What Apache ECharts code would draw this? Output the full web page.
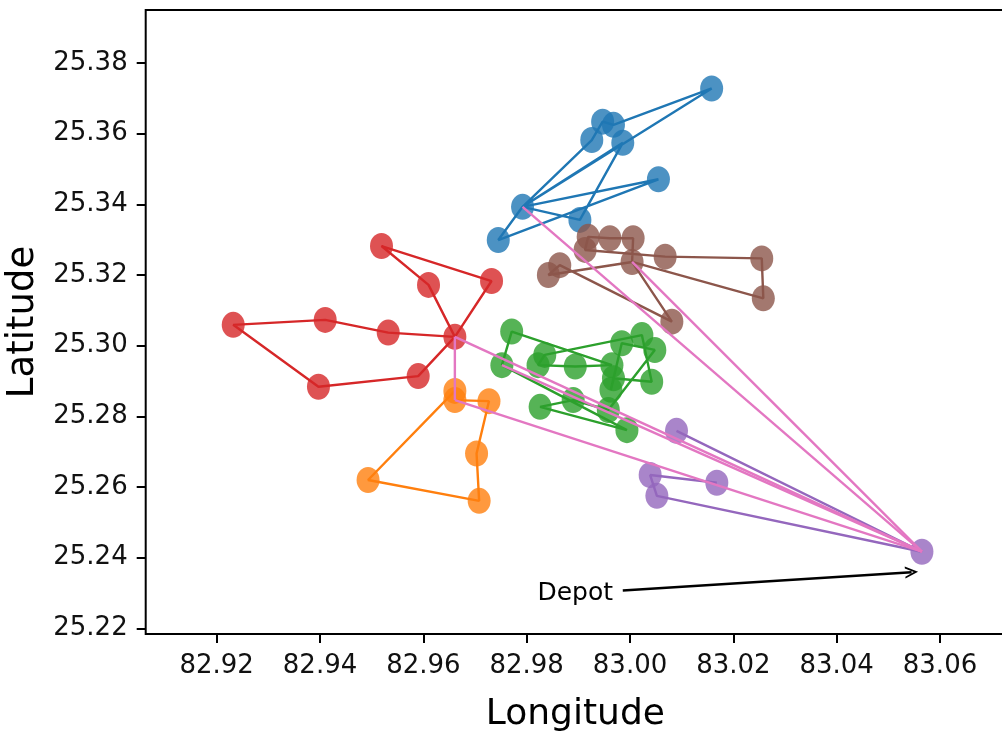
<!DOCTYPE html>
<html><head><meta charset="utf-8">
<script src="https://cdn.jsdelivr.net/npm/echarts@6/dist/echarts.min.js"></script>
<style>html,body{margin:0;padding:0;background:#fff}#c{width:1002px;height:734px}</style>
</head><body><div id="c"></div>
<script>
// ---- data (lon, lat) ----
const xTicks = [82.92, 82.94, 82.96, 82.98, 83.00, 83.02, 83.04, 83.06];
const yTicks = [25.22, 25.24, 25.26, 25.28, 25.30, 25.32, 25.34, 25.36, 25.38];
const depot = [83.0565, 25.2417];

const blueRoute = [[82.9792,25.3393],[83.0158,25.3728],[82.9968,25.3625],[82.9947,25.3634],[82.9926,25.3582],[82.9792,25.3393],[82.9986,25.3574],[82.9903,25.3356],[82.9792,25.3393],[83.0055,25.3471],[82.9745,25.3299],[82.9792,25.3393]];
const orangeRoute = [[82.9661,25.2846],[82.9727,25.2843],[82.9703,25.2695],[82.9708,25.2561],[82.9493,25.2620],[82.9661,25.2872]];
const greenRoute = [[82.9752,25.2945],[82.9771,25.3040],[82.9965,25.2945],[82.9894,25.2941],[82.9822,25.2945],[82.9835,25.2974],[83.0023,25.3030],[83.0042,25.2898],[82.9968,25.2908],[82.9963,25.2875],[82.9984,25.3007],[83.0048,25.2988],[82.9958,25.2818],[82.9890,25.2846],[82.9826,25.2827],[82.9994,25.2761],[82.9752,25.2945]];
const redRoute = [[82.9661,25.3025],[82.9732,25.3183],[82.9519,25.3282],[82.9610,25.3172],[82.9661,25.3025],[82.9532,25.3037],[82.9410,25.3073],[82.9232,25.3059],[82.9397,25.2884],[82.9590,25.2914],[82.9661,25.3025]];
const purpleRoute = [[83.0168,25.2612],[83.0039,25.2634],[83.0052,25.2575],[83.0565,25.2417],[83.0090,25.2759]];
const brownRoute = [[83.0004,25.3237],[83.0006,25.3304],[82.9961,25.3304],[82.9919,25.3308],[82.9913,25.3271],[83.0068,25.3252],[83.0255,25.3247],[83.0258,25.3134],[83.0004,25.3237],[82.9842,25.3200],[82.9864,25.3228],[83.0081,25.3068],[83.0004,25.3237]];
const depotLinks = [
  [[83.0565,25.2417],[82.9792,25.3393]],
  [[83.0565,25.2417],[83.0004,25.3237]],
  [[83.0565,25.2417],[82.9661,25.3025]],
  [[82.9661,25.3025],[82.9661,25.2846]],
  [[82.9661,25.2846],[83.0565,25.2417]],
  [[82.9752,25.2945],[83.0565,25.2417]]
];
const depotLabel = {text: 'Depot', at: [82.9894, 25.2299]};
const depotArrow = {from: [82.9986, 25.2307], to: [83.0545, 25.2359]};

// ---- styles ----
const routes = [
  {data: blueRoute,   color: '#1f77b4'},
  {data: orangeRoute, color: '#ff7f0e'},
  {data: greenRoute,  color: '#2ca02c'},
  {data: redRoute,    color: '#d62728'},
  {data: purpleRoute, color: '#9467bd'},
  {data: brownRoute,  color: '#8c564b'}
];
const pink = '#e377c2';
const FONT = 'DejaVu Sans';
const MS = [23, 26];
const LW = 2.4;

function uniq(pts){
  const seen = new Set([depot.join(',')]); const out = [];
  pts.forEach(p => { const k = p.join(','); if(!seen.has(k)){ seen.add(k); out.push(p); } });
  return out;
}

const series = [];
routes.forEach(r => {
  series.push({type:'scatter', data: uniq(r.data), symbol:'circle', symbolSize: MS,
    itemStyle:{color:r.color, opacity:0.8}, silent:true});
  series.push({type:'line', data: r.data, showSymbol:false, symbol:'none',
    lineStyle:{color:r.color, width:LW}, silent:true});
});
series.push({type:'scatter', data:[depot], symbol:'circle', symbolSize: MS,
  itemStyle:{color:'#9467bd', opacity:0.8}, silent:true});
depotLinks.forEach(seg => {
  series.push({type:'line', data: seg, showSymbol:false, symbol:'none',
    lineStyle:{color:pink, width:LW}, silent:true});
});
series.push({type:'scatter', data:[depotLabel.at], symbolSize:0, silent:true,
  itemStyle:{opacity:1},
  label:{show:true, position:'inside', formatter: depotLabel.text, fontFamily:FONT, fontSize:25,
    color:'#000', textBorderWidth:0, opacity:1},
  markLine:{silent:true, symbol:['none','path://M0,0L6,12L4.2,12L0,4L-4.2,12L-6,12Z'], symbolSize:[12,13],
    lineStyle:{color:'#000', width:2.4, type:'solid', opacity:1}, label:{show:false},
    data:[[{coord: depotArrow.from}, {coord: depotArrow.to}]]}
});

const chart = echarts.init(document.getElementById('c'), null, {renderer:'canvas'});
chart.setOption({
  animation:false,
  backgroundColor:'#fff',
  grid:{left:145.7, top:10, right:-3, bottom:100, show:true, borderColor:'#000', borderWidth:2, containLabel:false, outerBoundsMode:'none'},
  xAxis:{type:'value', min:82.90626, max:83.07258, splitLine:{show:false},
    axisLine:{show:false},
    axisTick:{show:true, customValues:xTicks, length:9, lineStyle:{color:'#000', width:2}},
    axisLabel:{customValues:xTicks, formatter:v=>v.toFixed(2), fontFamily:FONT, fontSize:26, color:'#111', margin:19},
    name:'Longitude', nameLocation:'middle', nameGap:63, nameTextStyle:{fontFamily:FONT, fontSize:36, color:'#000'}},
  yAxis:{type:'value', min:25.21841, max:25.3950, splitLine:{show:false},
    axisLine:{show:false},
    axisTick:{show:true, customValues:yTicks, length:9, lineStyle:{color:'#000', width:2}},
    axisLabel:{customValues:yTicks, formatter:v=>v.toFixed(2), fontFamily:FONT, fontSize:26, color:'#111', margin:18},
    name:'Latitude', nameLocation:'middle', nameGap:103, nameTextStyle:{fontFamily:FONT, fontSize:37, color:'#000'}},
  series: series
});
</script></body></html>
